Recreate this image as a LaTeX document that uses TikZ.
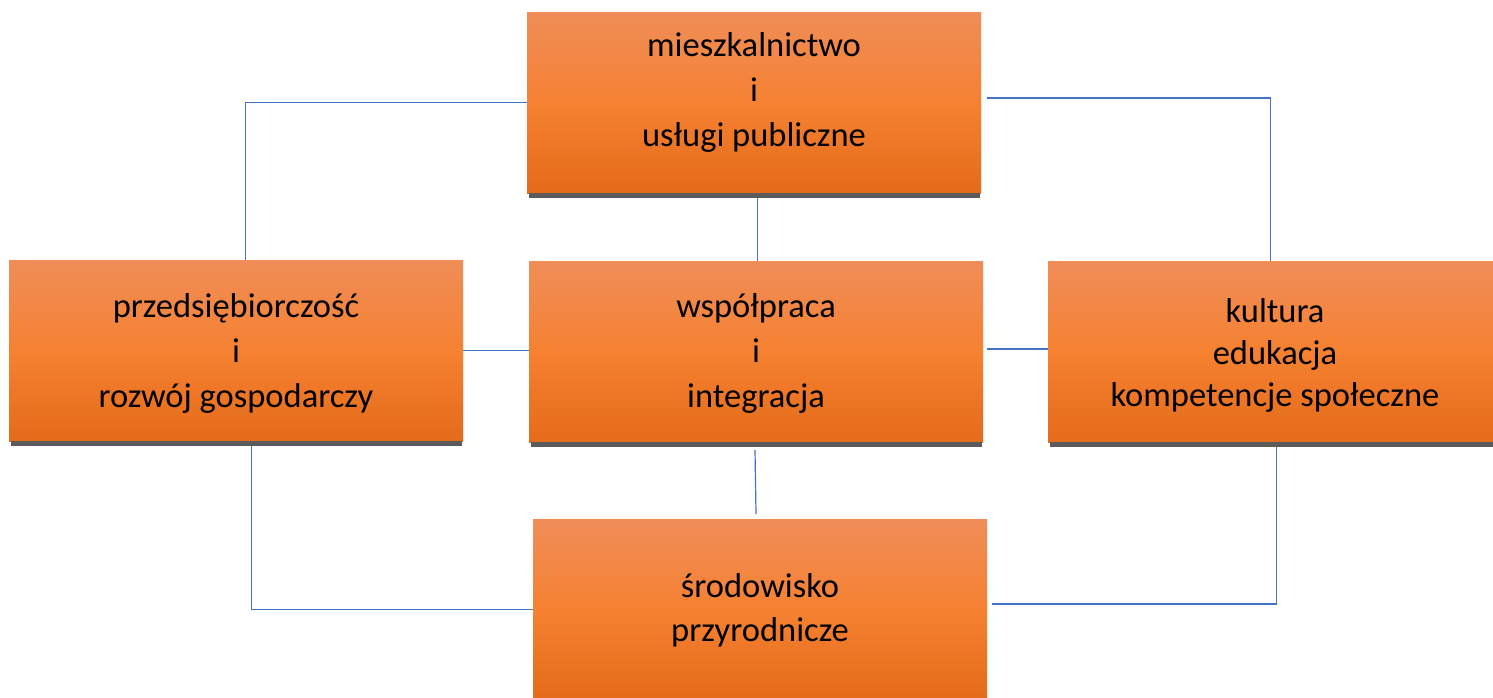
\documentclass[tikz,border=0pt]{standalone}
\usepackage{fontspec}
\setmainfont{Carlito}
\usetikzlibrary{calc}
\definecolor{otop}{HTML}{F08D58}
\definecolor{omid}{HTML}{F58131}
\definecolor{obot}{HTML}{E46B19}
\definecolor{shad}{HTML}{5B5B5B}
\definecolor{conn}{HTML}{4472C4}
\tikzset{
  box/.style={anchor=north west, minimum width=454pt, minimum height=181pt, inner sep=0pt,
    top color=otop, bottom color=obot, middle color=omid, draw=none},
  lbl/.style={align=center, inner sep=0pt, font=\fontsize{34.5}{45}\selectfont},
  link/.style={draw=conn, line width=1.2pt},
  shadowbar/.style={fill=shad},
}
\begin{document}
\begin{tikzpicture}[x=1pt,y=-1pt]
\useasboundingbox (0,0) rectangle (1493,697);
% boxes
\node[box] (top)   at (527,12)  {};
\node[box] (left)  at (9,260)   {};
\node[box] (cen)   at (529,261) {};
\node[box] (right) at (1048,261) {};
\node[box] (bot)   at (533,519) {};
% connectors
\coordinate (tr) at (987,98);
\coordinate (cr) at (987,349);
\coordinate (cb1) at (755,450);
\coordinate (cb2) at (756,514);
\coordinate (rb) at (992,604);
\draw[link] (top.west) -| ([xshift=9pt]left.north);
\draw[link] (tr) -| ([xshift=-5pt]right.north);
\draw[link] ([xshift=3pt]top.south) -- ([xshift=1pt]cen.north);
\draw[link] (left.east) -- (left.east -| cen.west);
\draw[link] (cr) -- (cr -| right.west);
\draw[link] (cb1) -- (cb2);
\draw[link] ([xshift=15pt]left.south) |- (bot.west);
\draw[link] ([xshift=1pt]right.south) |- (rb);
% shadows
\foreach \b in {top,left,cen,right}{
  \fill[shadowbar] ([xshift=2pt]\b.south west) rectangle ([xshift=-1pt,yshift=-4.5pt]\b.south east);
}
% texts
\node[lbl] (ttop) at (754,92) {\rule{0pt}{27pt}mieszkalnictwo\\i\\usługi publiczne\rule[-9pt]{0pt}{9pt}};
\node[lbl] (tleft) at (236,353) {\rule{0pt}{27pt}przedsiębiorczość\\i\\rozwój gospodarczy\rule[-9pt]{0pt}{9pt}};
\node[lbl] (tcen) at (756,353) {\rule{0pt}{27pt}współpraca\\i\\integracja\rule[-9pt]{0pt}{9pt}};
\node[lbl, font=\fontsize{34.5}{42}\selectfont] (tright) at (1275,355) {\rule{0pt}{27pt}kultura\\edukacja\\kompetencje społeczne\rule[-9pt]{0pt}{9pt}};
\node[lbl, font=\fontsize{34.5}{44}\selectfont] (tbot) at (760,610) {\rule{0pt}{27pt}środowisko\\przyrodnicze\rule[-9pt]{0pt}{9pt}};
\end{tikzpicture}
\end{document}
